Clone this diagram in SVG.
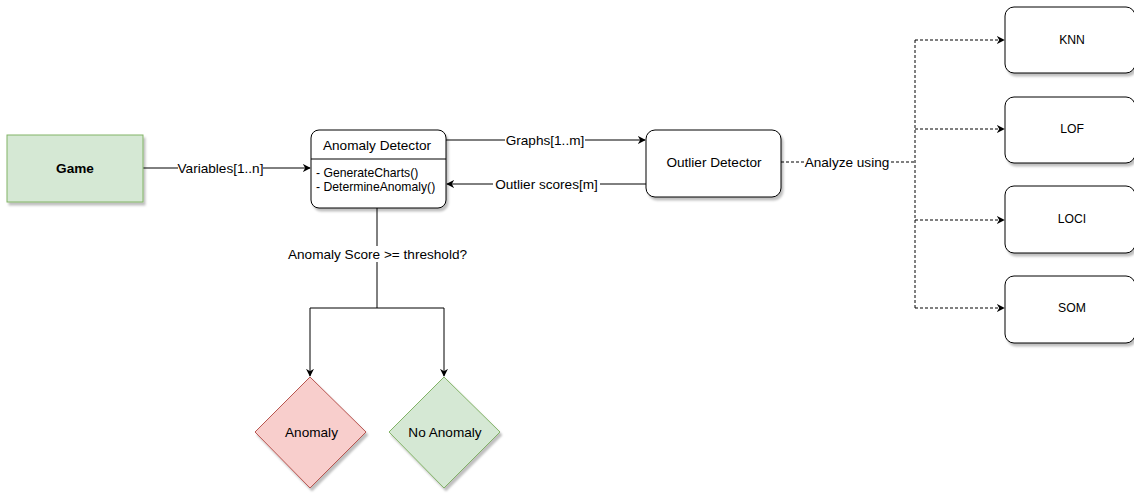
<svg xmlns="http://www.w3.org/2000/svg" width="1134" height="493" viewBox="0 0 1134 493">
<defs>
<filter id="sh" x="-10%" y="-10%" width="130%" height="130%"><feDropShadow dx="2" dy="3" stdDeviation="1.2" flood-color="#000" flood-opacity="0.25"/></filter>
<marker id="ar" viewBox="0 0 10 10" refX="9" refY="5" markerWidth="8" markerHeight="8" orient="auto" markerUnits="userSpaceOnUse"><path d="M0,0 L10,5 L0,10 L3,5 Z" fill="#000"/></marker>
</defs>
<style>
text{font-family:"Liberation Sans",Arial,sans-serif;font-size:13.6px;fill:#000}
.c{text-anchor:middle;dominant-baseline:central}
.sm{font-size:12.2px}
.box{fill:#fff;stroke:#000;stroke-width:1}
.ln{fill:none;stroke:#000;stroke-width:1}
.ds{fill:none;stroke:#000;stroke-width:1;stroke-dasharray:3,2}
.lb{fill:#fff}
</style>
<g id="connectors">
<path class="ln" d="M143,168 H310" marker-end="url(#ar)"/>
<rect class="lb" x="178" y="160" width="85" height="16"/>
<text class="c" x="220.5" y="168">Variables[1..n]</text>
<path class="ln" d="M446,140 H645" marker-end="url(#ar)"/>
<rect class="lb" x="505" y="132" width="80" height="16"/>
<text class="c" x="545" y="140">Graphs[1..m]</text>
<path class="ln" d="M646,184 H447" marker-end="url(#ar)"/>
<rect class="lb" x="493" y="176" width="107" height="16"/>
<text class="c" x="546.5" y="184">Outlier scores[m]</text>
<path class="ds" d="M781,162 H915"/>
<rect class="lb" x="805" y="154" width="84" height="16"/>
<text class="c" x="847" y="162">Analyze using</text>
<path class="ds" d="M915,40 V308"/>
<path class="ds" d="M915,40 H1004" marker-end="url(#ar)"/>
<path class="ds" d="M915,129 H1004" marker-end="url(#ar)"/>
<path class="ds" d="M915,220 H1004" marker-end="url(#ar)"/>
<path class="ds" d="M915,308 H1004" marker-end="url(#ar)"/>
<path class="ln" d="M377,208 V308"/>
<path class="ln" d="M310,308 H444"/>
<path class="ln" d="M310,308 V376" marker-end="url(#ar)"/>
<path class="ln" d="M444,308 V376" marker-end="url(#ar)"/>
<rect class="lb" x="287" y="246" width="181" height="16"/>
<text class="c" x="377.5" y="254">Anomaly Score &gt;= threshold?</text>
</g>
<g id="game">
<rect x="7" y="135" width="136" height="67" fill="#d5e8d4" stroke="#82b366" filter="url(#sh)"/>
<text class="c" x="75" y="168" font-weight="bold" font-size="12.2">Game</text>
</g>
<g id="anomaly-detector">
<rect class="box" x="311" y="130" width="135" height="78" rx="8" filter="url(#sh)"/>
<line class="ln" x1="311" y1="159" x2="446" y2="159"/>
<text class="c" x="377" y="145">Anomaly Detector</text>
<text class="sm" x="316" y="177">- GenerateCharts()</text>
<text class="sm" x="316" y="191">- DetermineAnomaly()</text>
</g>
<g id="outlier-detector">
<rect class="box" x="646" y="130" width="135" height="67" rx="9" filter="url(#sh)"/>
<text class="c" x="714" y="162">Outlier Detector</text>
</g>
<g id="knn">
<rect class="box" x="1005" y="7" width="130" height="66" rx="9" filter="url(#sh)"/>
<text class="c sm" x="1072" y="40">KNN</text>
</g>
<g id="lof">
<rect class="box" x="1005" y="97" width="130" height="66" rx="9" filter="url(#sh)"/>
<text class="c sm" x="1072" y="129">LOF</text>
</g>
<g id="loci">
<rect class="box" x="1005" y="186" width="130" height="67" rx="9" filter="url(#sh)"/>
<text class="c sm" x="1072" y="219">LOCI</text>
</g>
<g id="som">
<rect class="box" x="1005" y="276" width="130" height="67" rx="9" filter="url(#sh)"/>
<text class="c sm" x="1072" y="308">SOM</text>
</g>
<g id="anomaly">
<path d="M310,377 L366,432 L310,488 L255,432 Z" fill="#f8cecc" stroke="#b85450" filter="url(#sh)"/>
<text class="c" x="311.5" y="432">Anomaly</text>
</g>
<g id="no-anomaly">
<path d="M444,377 L500,432 L444,488 L389,432 Z" fill="#d5e8d4" stroke="#82b366" filter="url(#sh)"/>
<text class="c" x="445" y="432">No Anomaly</text>
</g>
</svg>
